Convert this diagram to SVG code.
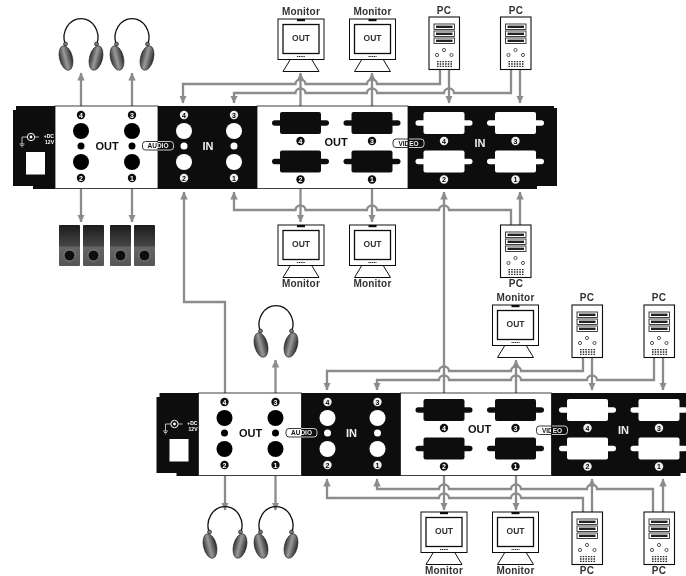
<svg xmlns="http://www.w3.org/2000/svg" width="686" height="576" viewBox="0 0 686 576">
<style>
text{font-family:"Liberation Sans",Arial,sans-serif;font-weight:bold;text-anchor:middle}
.lbl{font-size:10px;fill:#333;letter-spacing:.2px}
.scr{font-size:8.5px;fill:#333}
.pout{font-size:11px;fill:#111}
.pin{font-size:11px;fill:#eee}
.tiny{font-size:6.5px}
.pw{font-size:5px;fill:#fff;text-anchor:end}
.dk{font-size:7px;fill:#fff}
.dw{font-size:7px;fill:#000}
.wire{fill:none;stroke:#8c8c8c;stroke-width:2.3}
.arr{marker-end:url(#ah)}
.badge{fill:none;stroke:url(#bs);stroke-width:.9}
</style>
<defs>
<filter id="soft" x="0" y="0" width="1" height="1" filterUnits="objectBoundingBox"><feGaussianBlur stdDeviation=".3"/></filter>
<marker id="ah" markerUnits="userSpaceOnUse" markerWidth="9" markerHeight="8" refX="7.5" refY="3.75" orient="auto"><path d="M0 0L8 3.75L0 7.5Z" fill="#8c8c8c"/></marker>
<linearGradient id="bs" x1="0" x2="1" y1="0" y2="0"><stop offset=".5" stop-color="#222"/><stop offset=".5" stop-color="#ddd"/></linearGradient>
<linearGradient id="cup" x1="0" x2="1" y1="0" y2="0"><stop offset="0" stop-color="#333"/><stop offset=".45" stop-color="#999"/><stop offset="1" stop-color="#2a2a2a"/></linearGradient>
<linearGradient id="spk" x1="0" x2="0" y1="0" y2="1"><stop offset="0" stop-color="#1c1c1c"/><stop offset=".5" stop-color="#444"/><stop offset=".55" stop-color="#666"/><stop offset="1" stop-color="#555"/></linearGradient>
<g id="phone">
<path d="M-16 19A17 19 0 1 1 16 19" fill="none" stroke="#111" stroke-width="1.3"/>
<circle cx="-15.5" cy="19" r="2" fill="#777" stroke="#111" stroke-width=".6"/><circle cx="15.5" cy="19" r="2" fill="#777" stroke="#111" stroke-width=".6"/>
<ellipse cx="-15" cy="33" rx="6.5" ry="12.500" transform="rotate(-14 -15 33)" fill="url(#cup)" stroke="#222" stroke-width=".6"/>
<ellipse cx="15" cy="33" rx="6.5" ry="12.500" transform="rotate(14 15 33)" fill="url(#cup)" stroke="#222" stroke-width=".6"/>
</g>
<g id="mon">
<rect x="0" y="0" width="46" height="40.5" fill="#fff" stroke="#111" stroke-width="1"/>
<rect x="5" y="5.500" width="36" height="29" fill="#fff" stroke="#111" stroke-width="1.3"/>
<rect x="19" y="0" width="8" height="2.2" fill="#111"/>
<path d="M19 37.5h8" stroke="#222" stroke-width="1" stroke-dasharray="1.2 .6"/>
<path d="M12 41L5 52.5H41L34 41" fill="#fff" stroke="#111" stroke-width="1"/>
</g>
<g id="pc">
<rect x="0" y="0" width="30.5" height="52.5" fill="#fff" stroke="#111" stroke-width="1.1"/>
<g fill="#fff" stroke="#111" stroke-width=".8">
<rect x="5" y="7" width="20.5" height="5.5"/><rect x="5" y="14" width="20.5" height="5.5"/><rect x="5" y="21" width="20.5" height="5.5"/>
</g>
<g fill="#222"><rect x="7" y="8.6" width="16.5" height="2.4"/><rect x="7" y="15.6" width="16.5" height="2.4"/><rect x="7" y="22.6" width="16.5" height="2.4"/></g>
<g fill="#fff" stroke="#111" stroke-width=".7"><circle cx="15" cy="33" r="1.6"/><circle cx="8" cy="38" r="1.6"/><circle cx="22.5" cy="38" r="1.6"/></g>
<path d="M8 44.7H23M8 47H23M8 49.3H23" stroke="#222" stroke-width="1.3" stroke-dasharray="1.5 1.2"/>
</g>
<g id="sp">
<rect x="0" y="0" width="21" height="41" rx="1" fill="url(#spk)"/>
<circle cx="10.5" cy="30.5" r="5.5" fill="#111" stroke="#888" stroke-width="1"/>
</g>
<g id="vga">
<rect x="-28.5" y="-2.8" width="57" height="5.6" rx="2.8"/>
<rect x="-20.5" y="-11" width="41" height="22" rx="2"/>
</g>
<g id="art">
<path d="M16 106H55V189H33V186H13V110H16Z" fill="#111"/>
<rect x="55" y="106" width="103" height="82.5" fill="#fff" stroke="#111" stroke-width=".8"/>
<rect x="158" y="106" width="99" height="83" fill="#111"/>
<rect x="257" y="106" width="151" height="82.5" fill="#fff" stroke="#111" stroke-width=".8"/>
<path d="M408 106H554V108H557V186H537V189H408Z" fill="#111"/>
<rect x="26" y="152" width="19" height="22.5" fill="#fff"/>
<circle cx="31" cy="137" r="3.7" fill="none" stroke="#fff" stroke-width="1"/><circle cx="31" cy="137" r="1.4" fill="#fff"/>
<path d="M27 137H22V144M19.5 144H24.5M20.5 145.5H23.5M21.5 147H22.5M35 137H39" fill="none" stroke="#fff" stroke-width=".7"/>
<g fill="#000"><circle cx="81" cy="131" r="8"/><circle cx="81" cy="162" r="8"/><circle cx="81" cy="146" r="3.5"/><circle cx="132" cy="131" r="8"/><circle cx="132" cy="162" r="8"/><circle cx="132" cy="146" r="3.5"/></g>
<g fill="#fff"><circle cx="184" cy="131" r="8"/><circle cx="184" cy="162" r="8"/><circle cx="184" cy="146" r="3.5"/><circle cx="234" cy="131" r="8"/><circle cx="234" cy="162" r="8"/><circle cx="234" cy="146" r="3.5"/></g>
<g fill="#111"><use href="#vga" x="300.5" y="123"/><use href="#vga" x="372" y="123"/><use href="#vga" x="300.5" y="161.5"/><use href="#vga" x="372" y="161.5"/></g>
<g fill="#fff"><use href="#vga" x="444" y="123"/><use href="#vga" x="515.5" y="123"/><use href="#vga" x="444" y="161.5"/><use href="#vga" x="515.5" y="161.5"/></g>
<g fill="#111"><circle cx="81" cy="115" r="4.2"/><circle cx="132" cy="115" r="4.2"/><circle cx="81" cy="178" r="4.2"/><circle cx="132" cy="178" r="4.2"/><circle cx="300.5" cy="141" r="4.2"/><circle cx="372" cy="141" r="4.2"/><circle cx="300.5" cy="179.5" r="4.2"/><circle cx="372" cy="179.5" r="4.2"/></g>
<g fill="#eee"><circle cx="184" cy="115" r="4.2"/><circle cx="234" cy="115" r="4.2"/><circle cx="184" cy="178" r="4.2"/><circle cx="234" cy="178" r="4.2"/><circle cx="444" cy="141" r="4.2"/><circle cx="515.5" cy="141" r="4.2"/><circle cx="444" cy="179.5" r="4.2"/><circle cx="515.5" cy="179.5" r="4.2"/></g>
<rect class="badge" x="142.5" y="141.5" width="31" height="8.5" rx="3"/>
<rect class="badge" x="393" y="139" width="31" height="8.5" rx="3"/>
</g>
</defs>
<g id="diagram" filter="url(#soft)">
<rect width="686" height="576" fill="#fff"/>
<g id="connectors" class="wire">
<path class="arr" d="M81 106V73"/><path class="arr" d="M132 106V73"/><path class="arr" d="M81 189V222"/><path class="arr" d="M132 189V222"/>
<path class="arr" d="M300.5 106V73"/><path class="arr" d="M372 106V73"/>
<path class="arr" d="M440 70V84H377a5 4.5 0 0 0-10 0H305.5a5 4.5 0 0 0-10 0H183V103"/>
<path class="arr" d="M511 70V93H454a5 4.5 0 0 0-10 0H377a5 4.5 0 0 0-10 0H305.5a5 4.5 0 0 0-10 0H234V103"/>
<path class="arr" d="M449 70V103"/><path class="arr" d="M520 70V103"/>
<path class="arr" d="M511 225V210H449a5 4.5 0 0 0-10 0H377a5 4.5 0 0 0-10 0H305.5a5 4.5 0 0 0-10 0H234V192"/>
<path class="arr" d="M520 225V192"/><path class="arr" d="M300.5 189V222"/><path class="arr" d="M372 189V222"/>
<path class="arr" d="M444 393V192"/>
<path class="arr" d="M225 393V302H184V192"/>
<path class="arr" d="M583 357V371H521a5 4.5 0 0 0-10 0H449a5 4.5 0 0 0-10 0H327V390"/>
<path class="arr" d="M654 357V380H597a5 4.5 0 0 0-10 0H521a5 4.5 0 0 0-10 0H449a5 4.5 0 0 0-10 0H377V390"/>
<path class="arr" d="M592 357V390"/><path class="arr" d="M663 357V390"/>
<path class="arr" d="M516 393V360"/><path class="arr" d="M275.500 393V360"/>
<path class="arr" d="M444 476V510"/><path class="arr" d="M516 476V510"/><path class="arr" d="M225 476V510"/><path class="arr" d="M275.500 476V510"/>
<path class="arr" d="M653 512V489H597a5 4.5 0 0 0-10 0H521a5 4.500 0 0 0-10 0H449a5 4.5 0 0 0-10 0H377V479"/>
<path class="arr" d="M583 512V498H521a5 4.5 0 0 0-10 0H449a5 4.5 0 0 0-10 0H327V479"/>
<path class="arr" d="M592 512V479"/><path class="arr" d="M663 512V479"/>
</g>
<g id="switch-top">
<use href="#art"/>
<text class="pout" x="107" y="150">OUT</text><text class="pin" x="208" y="150">IN</text>
<text class="pout" x="336" y="146">OUT</text><text class="pin" x="480" y="147">IN</text>
<text class="tiny" x="158" y="148"><tspan fill="#111">AU</tspan><tspan fill="#eee">DIO</tspan></text>
<text class="tiny" x="408.500" y="145.500"><tspan fill="#111">VID</tspan><tspan fill="#eee">EO</tspan></text>
<text class="pw" x="54" y="138">+DC</text><text class="pw" x="54" y="144">12V</text>
<text class="dk" x="81" y="117.500">4</text><text class="dk" x="132" y="117.500">3</text><text class="dk" x="81" y="180.500">2</text><text class="dk" x="132" y="180.500">1</text>
<text class="dw" x="184" y="117.500">4</text><text class="dw" x="234" y="117.500">3</text><text class="dw" x="184" y="180.500">2</text><text class="dw" x="234" y="180.500">1</text>
<text class="dk" x="300.500" y="143.500">4</text><text class="dk" x="372" y="143.500">3</text><text class="dk" x="300.500" y="182">2</text><text class="dk" x="372" y="182">1</text>
<text class="dw" x="444" y="143.500">4</text><text class="dw" x="515.500" y="143.500">3</text><text class="dw" x="444" y="182">2</text><text class="dw" x="515.500" y="182">1</text>
</g>
<g id="switch-bottom" transform="translate(143.500 287)">
<use href="#art"/>
<text class="pout" x="107" y="150">OUT</text><text class="pin" x="208" y="150">IN</text>
<text class="pout" x="336" y="146">OUT</text><text class="pin" x="480" y="147">IN</text>
<text class="tiny" x="158" y="148"><tspan fill="#111">AU</tspan><tspan fill="#eee">DIO</tspan></text>
<text class="tiny" x="408.500" y="145.500"><tspan fill="#111">VID</tspan><tspan fill="#eee">EO</tspan></text>
<text class="pw" x="54" y="138">+DC</text><text class="pw" x="54" y="144">12V</text>
<text class="dk" x="81" y="117.500">4</text><text class="dk" x="132" y="117.500">3</text><text class="dk" x="81" y="180.500">2</text><text class="dk" x="132" y="180.500">1</text>
<text class="dw" x="184" y="117.500">4</text><text class="dw" x="234" y="117.500">3</text><text class="dw" x="184" y="180.500">2</text><text class="dw" x="234" y="180.500">1</text>
<text class="dk" x="300.500" y="143.500">4</text><text class="dk" x="372" y="143.500">3</text><text class="dk" x="300.500" y="182">2</text><text class="dk" x="372" y="182">1</text>
<text class="dw" x="444" y="143.500">4</text><text class="dw" x="515.500" y="143.500">3</text><text class="dw" x="444" y="182">2</text><text class="dw" x="515.500" y="182">1</text>
</g>
<g id="headphones-1"><use href="#phone" x="81" y="25"/></g>
<g id="headphones-2"><use href="#phone" x="132" y="25"/></g>
<g id="headphones-3"><use href="#phone" x="276" y="312"/></g>
<g id="headphones-4"><use href="#phone" x="225" y="513"/></g>
<g id="headphones-5"><use href="#phone" x="276" y="513"/></g>
<g id="speakers-1"><use href="#sp" x="59" y="225"/><use href="#sp" x="83" y="225"/></g>
<g id="speakers-2"><use href="#sp" x="110" y="225"/><use href="#sp" x="134" y="225"/></g>
<g id="monitor-1"><use href="#mon" x="278" y="19"/><text class="lbl" x="301" y="15">Monitor</text><text class="scr" x="301" y="41">OUT</text></g>
<g id="monitor-2"><use href="#mon" x="349.500" y="19"/><text class="lbl" x="372.500" y="15">Monitor</text><text class="scr" x="372.500" y="41">OUT</text></g>
<g id="monitor-3"><use href="#mon" x="278" y="225"/><text class="lbl" x="301" y="287">Monitor</text><text class="scr" x="301" y="247">OUT</text></g>
<g id="monitor-4"><use href="#mon" x="349.500" y="225"/><text class="lbl" x="372.500" y="287">Monitor</text><text class="scr" x="372.500" y="247">OUT</text></g>
<g id="monitor-5"><use href="#mon" x="492.500" y="305"/><text class="lbl" x="515.500" y="301">Monitor</text><text class="scr" x="515.500" y="327">OUT</text></g>
<g id="monitor-6"><use href="#mon" x="421" y="512"/><text class="lbl" x="444" y="574">Monitor</text><text class="scr" x="444" y="534">OUT</text></g>
<g id="monitor-7"><use href="#mon" x="492.500" y="512"/><text class="lbl" x="515.500" y="574">Monitor</text><text class="scr" x="515.500" y="534">OUT</text></g>
<g id="pc-1"><use href="#pc" x="429" y="17"/><text class="lbl" x="444" y="14">PC</text></g>
<g id="pc-2"><use href="#pc" x="500.500" y="17"/><text class="lbl" x="516" y="14">PC</text></g>
<g id="pc-3"><use href="#pc" x="500.500" y="225"/><text class="lbl" x="516" y="287">PC</text></g>
<g id="pc-4"><use href="#pc" x="572" y="305"/><text class="lbl" x="587" y="301">PC</text></g>
<g id="pc-5"><use href="#pc" x="644" y="305"/><text class="lbl" x="659" y="301">PC</text></g>
<g id="pc-6"><use href="#pc" x="572" y="512"/><text class="lbl" x="587" y="574">PC</text></g>
<g id="pc-7"><use href="#pc" x="644" y="512"/><text class="lbl" x="659" y="574">PC</text></g>
</g>
</svg>
